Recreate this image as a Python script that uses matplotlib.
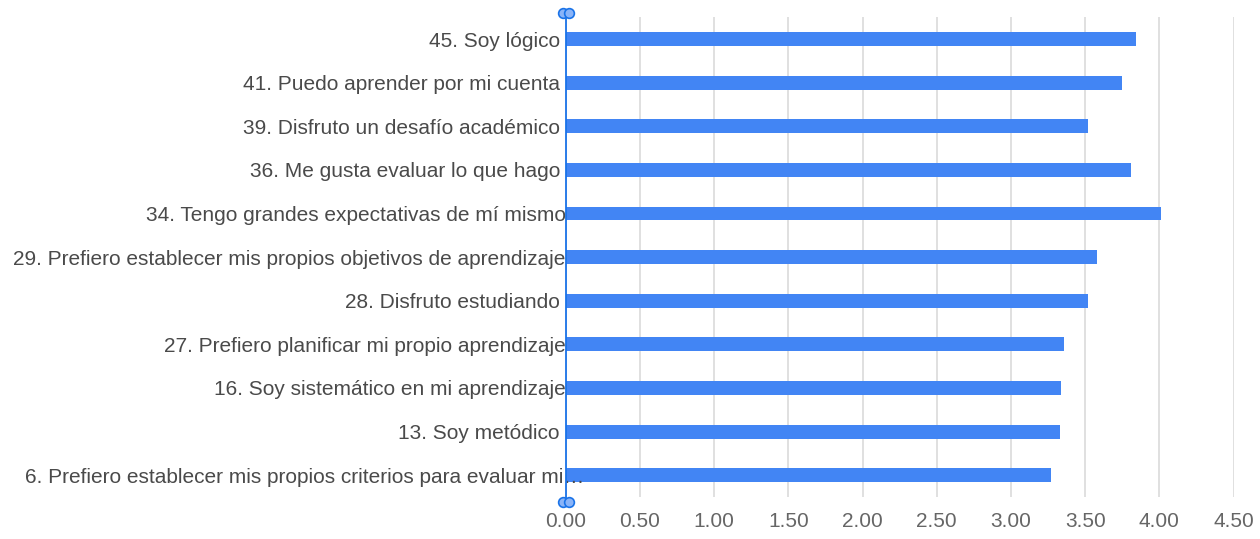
import numpy as np
import matplotlib.pyplot as plt
import matplotlib.transforms as mtransforms

plt.rcParams['font.family'] = ['Liberation Sans', 'DejaVu Sans']

# Items de la encuesta (de arriba a abajo) y su promedio
items = [
    "45. Soy lógico ",
    "41. Puedo aprender por mi cuenta ",
    "39. Disfruto un desafío académico ",
    "36. Me gusta evaluar lo que hago ",
    "34. Tengo grandes expectativas de mí mismo",
    "29. Prefiero establecer mis propios objetivos de aprendizaje",
    "28. Disfruto estudiando ",
    "27. Prefiero planificar mi propio aprendizaje",
    "16. Soy sistemático en mi aprendizaje",
    "13. Soy metódico ",
    "6. Prefiero establecer mis propios criterios para evaluar mi\u2026",
]
promedios = [3.84, 3.75, 3.52, 3.81, 4.01, 3.58, 3.52, 3.36, 3.34, 3.33, 3.27]
xticks = [0, 0.5, 1.0, 1.5, 2.0, 2.5, 3.0, 3.5, 4.0, 4.5]

fig = plt.figure(figsize=(12.6, 5.39), dpi=100)
ax = fig.add_axes([0.449, 0.078, 0.530, 0.890])

y = np.arange(len(items))
ax.barh(y, promedios, height=0.32, color='#4285F4', zorder=3)

ax.set_xlim(0, 4.5)
ax.set_ylim(len(items) - 0.5, -0.5)
ax.set_xticks(xticks)
ax.set_xticklabels(['%.2f' % v for v in xticks])
ax.set_yticks(y)
ax.set_yticklabels(items)

for s in ax.spines.values():
    s.set_visible(False)
ax.grid(axis='x', color='#dddddd', linewidth=1.3)
ax.xaxis.set_zorder(0.5)
ax.yaxis.set_zorder(4)
ax.tick_params(axis='x', length=0, pad=11, labelsize=15, labelcolor='#666666')
ax.tick_params(axis='y', length=0, pad=0, labelsize=15, labelcolor='#4a4a4a')

# la etiqueta truncada sobresale sobre la barra
lbl = ax.get_yticklabels()[-1]
lbl.set_transform(lbl.get_transform() + mtransforms.ScaledTranslation(0.19, 0, fig.dpi_scale_trans))

# línea del eje seleccionada con sus manijas
trans = mtransforms.blended_transform_factory(ax.transData, fig.transFigure)
ax.plot([0, 0], [1 - 12 / 539, 1 - 503 / 539], color='#1a73e8', lw=1.3,
        transform=trans, clip_on=False, zorder=5)
for dx in (-0.02, 0.02):
    ax.plot([dx, dx], [1 - 13 / 539, 1 - 502 / 539], 'o', ms=7, mfc='#8ab4f8',
            mec='#1a73e8', mew=1.2, transform=trans, clip_on=False, zorder=6)

fig.savefig('out.png', dpi=100)
